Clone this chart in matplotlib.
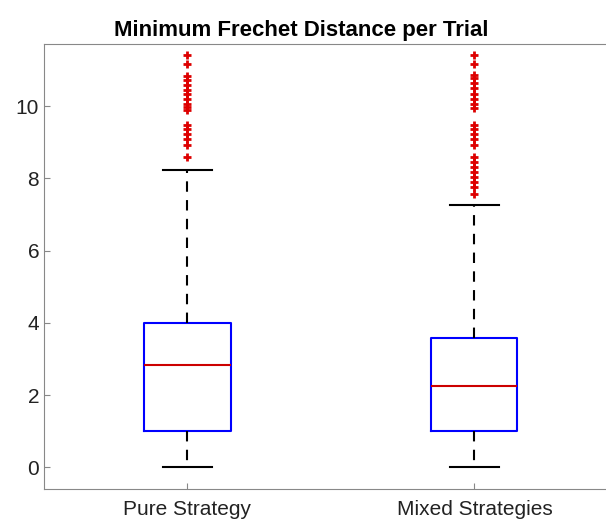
import matplotlib
matplotlib.use("Agg")
import matplotlib.pyplot as plt

plt.rcParams["font.family"] = ["Liberation Sans", "DejaVu Sans"]

# box statistics
labels = ["Pure Strategy", "Mixed Strategies"]
whislo = [0.0, 0.0]
q1 = [1.0, 1.0]
median = [2.83, 2.24]
q3 = [3.99, 3.58]
whishi = [8.23, 7.27]

pure_outliers = [11.41, 11.16, 10.83, 10.72, 10.58, 10.44, 10.33, 10.21, 10.07, 9.98, 9.89,
                 9.47, 9.38, 9.24, 9.10, 8.92, 8.58]
mixed_outliers = [11.41, 11.18, 10.86, 10.77, 10.63, 10.49, 10.35, 10.21, 10.07, 9.94,
                  9.47, 9.38, 9.24, 9.10, 8.92, 8.60, 8.46, 8.32, 8.18, 8.04, 7.90, 7.76, 7.58]
outliers = [pure_outliers, mixed_outliers]

stats = []
for i in range(len(labels)):
    stats.append({"label": labels[i], "whislo": whislo[i], "q1": q1[i], "med": median[i],
                  "q3": q3[i], "whishi": whishi[i], "fliers": outliers[i]})

fig = plt.figure(figsize=(6.06, 5.21), dpi=100)
ax = fig.add_axes([0.0726, 0.0614, 0.947, 0.854])

ax.bxp(stats, positions=[1, 2], widths=0.3, capwidths=0.17,
       boxprops=dict(color="#0000ff", linewidth=1.5),
       medianprops=dict(color="#cc0000", linewidth=1.5),
       whiskerprops=dict(color="black", linewidth=1.5, linestyle=(0, (5, 4))),
       capprops=dict(color="black", linewidth=1.5),
       flierprops=dict(marker="+", markeredgecolor="#dd0000", markersize=6, markeredgewidth=2))

ax.set_xlim(0.5, 2.5)
ax.set_ylim(-0.6, 11.72)
ax.set_yticks([0, 2, 4, 6, 8, 10])
ax.tick_params(direction="in", length=4, color="#888888", labelsize=15, labelcolor="#222222")
ax.tick_params(axis="x", pad=8)
for s in ax.spines.values():
    s.set_color("#888888")
# axes runs past the right edge of the figure, so centre the title on the visible part
ax.set_title("Minimum Frechet Distance per Trial", fontsize=16, fontweight="bold", pad=6, x=0.448)

fig.savefig("out.png", dpi=100)
